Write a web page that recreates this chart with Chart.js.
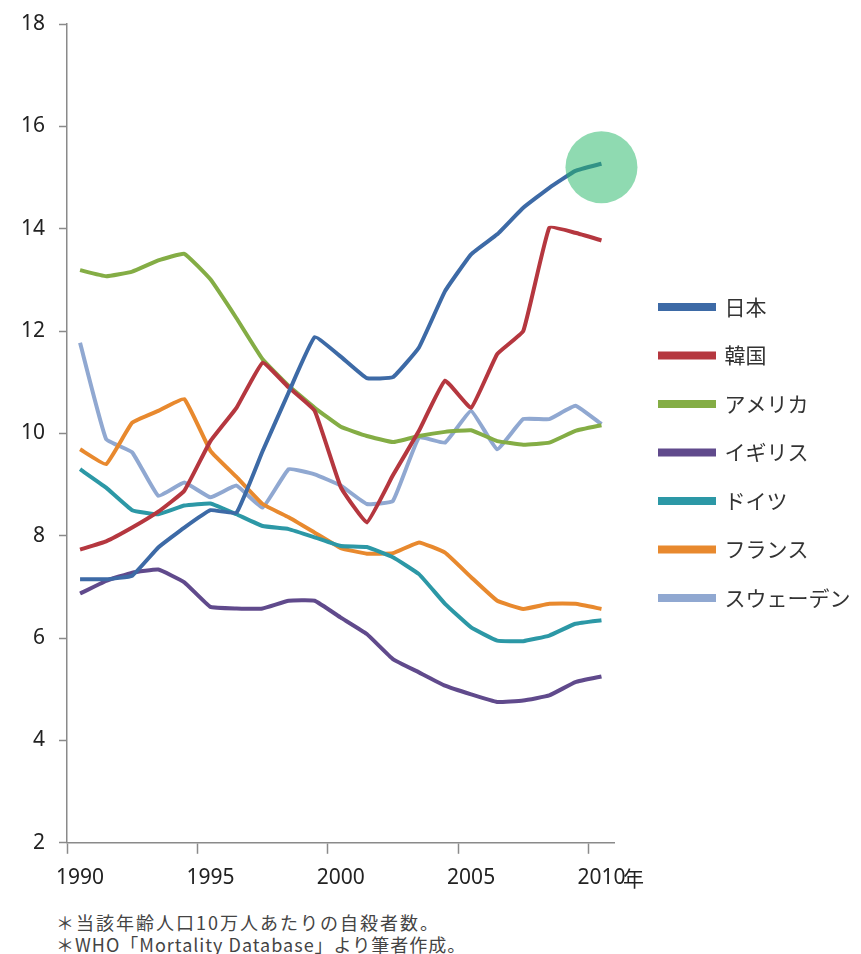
<!DOCTYPE html>
<html>
<head>
<meta charset="utf-8">
<script src="https://cdn.jsdelivr.net/npm/chart.js@4.4.1/dist/chart.umd.min.js"></script>
<style>
  body { margin: 0; background: #fff; font-family: "Noto Sans CJK JP", "Noto Sans", sans-serif; }
  #wrap { position: relative; width: 861px; height: 954px; overflow: hidden; }
  #box { position: absolute; left: 0; top: -12px; width: 861px; height: 915px; }
  .note { position: absolute; left: 56px; font-size: 18px; color: #444; white-space: nowrap; }
  #unit { position: absolute; left: 623px; top: 862px; font-size: 21px; color: #222; }
</style>
</head>
<body>
<div id="wrap">
  <div id="box"><canvas id="suicide-rate"></canvas></div>
  <div id="unit">年</div>
  <div class="note" style="top:909px; letter-spacing:2px">＊当該年齢人口10万人あたりの自殺者数。</div>
  <div class="note" style="top:931px; letter-spacing:1px">＊WHO「Mortality Database」より筆者作成。</div>
</div>
<script>
const years = [1990, 1991, 1992, 1993, 1994, 1995, 1996, 1997, 1998, 1999, 2000,
  2001, 2002, 2003, 2004, 2005, 2006, 2007, 2008, 2009, 2010];

const countries = ['日本', '韓国', 'アメリカ', 'イギリス', 'ドイツ', 'フランス', 'スウェーデン'];

const japan   = [7.15, 7.15, 7.22, 7.77, 8.16, 8.50, 8.45, 9.65, 10.8, 11.88, 11.5, 11.08, 11.10, 11.68, 12.78, 13.5, 13.89, 14.41, 14.80, 15.13, 15.27];
const korea   = [7.73, 7.89, 8.16, 8.47, 8.88, 9.85, 10.50, 11.38, 10.9, 10.44, 8.95, 8.26, 9.18, 10.05, 11.03, 10.5, 11.55, 12.0, 14.02, 13.92, 13.77];
const america = [13.19, 13.07, 13.16, 13.38, 13.51, 13.01, 12.25, 11.45, 10.93, 10.50, 10.13, 9.95, 9.83, 9.95, 10.03, 10.06, 9.85, 9.78, 9.82, 10.05, 10.16];
const uk      = [6.87, 7.12, 7.28, 7.34, 7.09, 6.61, 6.58, 6.58, 6.73, 6.73, 6.40, 6.08, 5.59, 5.33, 5.07, 4.90, 4.75, 4.78, 4.88, 5.14, 5.25];
const germany = [9.30, 8.94, 8.50, 8.42, 8.59, 8.63, 8.42, 8.19, 8.13, 7.97, 7.80, 7.78, 7.58, 7.25, 6.67, 6.21, 5.95, 5.94, 6.05, 6.28, 6.35];
const france  = [9.69, 9.40, 10.21, 10.44, 10.67, 9.66, 9.15, 8.62, 8.36, 8.06, 7.76, 7.65, 7.66, 7.87, 7.67, 7.19, 6.73, 6.57, 6.67, 6.67, 6.57];
const sweden  = [11.77, 9.89, 9.63, 8.78, 9.04, 8.75, 8.98, 8.55, 9.30, 9.20, 8.98, 8.62, 8.68, 9.92, 9.82, 10.44, 9.69, 10.28, 10.28, 10.54, 10.18];

// the green marker around Japan's last point
const highlightYear = 2010;
const highlightValue = 15.2;

const colors = ['#3d6aa6', '#b5373f', '#84ad45', '#604a8c', '#2c98a6', '#e8892e', '#90a8d1'];
const series = [japan, korea, america, uk, germany, france, sweden];

const lineSets = countries.map((name, i) => ({
  label: name,
  data: series[i],
  borderColor: colors[i],
  backgroundColor: colors[i],
  borderWidth: 4,
  pointRadius: 0,
  tension: 0.1
}));

const highlightSet = {
  label: 'highlight',
  data: years.map(y => y === highlightYear ? highlightValue : null),
  showLine: false,
  pointRadius: 36,
  pointHoverRadius: 36,
  pointBorderWidth: 0,
  pointBackgroundColor: 'rgba(40, 185, 105, 0.52)',
  order: -1
};

// push the legend a little away from the plot, like the original
const legendShift = {
  id: 'legendShift',
  afterLayout(chart) {
    const lg = chart.legend;
    if (!lg) return;
    const dx = 18, dy = 7;
    lg.left += dx;
    lg.right = chart.width;   // legend is clipped to its box, keep the long label
    lg.top += dy; lg.bottom += dy;
  }
};

const tickFont = { family: '"Noto Sans", sans-serif', size: 21 };

const config = {
  type: 'line',
  data: {
    labels: years,
    datasets: [highlightSet, ...lineSets]
  },
  options: {
    responsive: true,
    maintainAspectRatio: false,
    animation: false,
    layout: { padding: { left: 7, top: 0, right: 44, bottom: 0 } },
    plugins: {
      tooltip: { enabled: false },
      legend: {
        position: 'right',
        labels: {
          boxWidth: 54,
          boxHeight: 4,
          padding: 27.5,
          color: '#333',
          font: { family: '"Noto Sans CJK JP", sans-serif', size: 21 },
          filter: item => item.text !== 'highlight'
        }
      }
    },
    scales: {
      x: {
        offset: true,
        grid: {
          offset: true,
          drawOnChartArea: false,
          tickLength: 11,
          tickWidth: 1.5,
          tickColor: ctx => (ctx.index % 5 === 0 && ctx.index < years.length) ? '#8a8a8a' : 'rgba(0,0,0,0)'
        },
        border: { color: '#8a8a8a', width: 1.5 },
        ticks: {
          autoSkip: false,
          maxRotation: 0,
          minRotation: 0,
          padding: 12,
          color: '#222',
          font: tickFont,
          callback: function (value, index) {
            const y = years[index];
            return y % 5 === 0 ? String(y) : '';
          }
        }
      },
      y: {
        min: 2,
        max: 18,
        grid: {
          drawOnChartArea: false,
          tickLength: 8,
          tickWidth: 1.5,
          tickColor: '#8a8a8a'
        },
        border: { color: '#8a8a8a', width: 1.5 },
        ticks: {
          stepSize: 2,
          padding: 14,
          color: '#222',
          font: tickFont
        }
      }
    }
  },
  plugins: [legendShift]
};

new Chart(document.getElementById('suicide-rate'), config);
</script>
</body>
</html>
